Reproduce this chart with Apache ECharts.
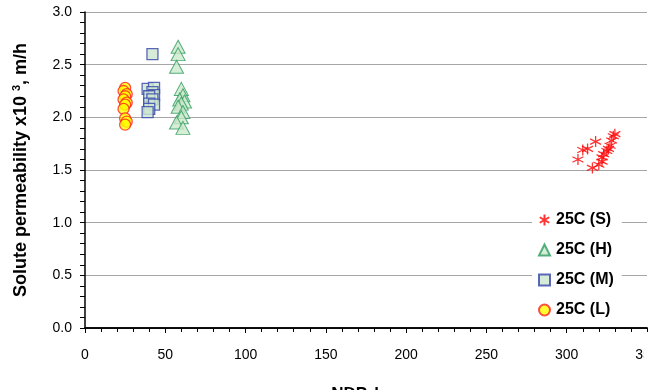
<!DOCTYPE html>
<html><head><meta charset="utf-8">
<script src="https://cdn.jsdelivr.net/npm/echarts@6/dist/echarts.min.js"></script>
<style>html,body{margin:0;padding:0;background:#fff}#c{width:662px;height:390px}</style>
</head><body><div id="c"></div>
<script>
var xTicks = [0, 50, 100, 150, 200, 250, 300, 350];
var yTicks = [0.0, 0.5, 1.0, 1.5, 2.0, 2.5, 3.0];
var seriesNames = ['25C (S)', '25C (H)', '25C (M)', '25C (L)'];
var dataS = [[307,1.60],[310,1.69],[313,1.70],[318,1.77],[316,1.52],[320,1.55],[322,1.58],[322,1.62],[323,1.65],[325,1.68],[326,1.70],[327,1.73],[328,1.78],[329,1.82],[330,1.84]];
var dataH = [[58,2.67],[58,2.60],[57,2.48],[60,2.27],[61,2.21],[59,2.17],[62,2.15],[60,2.13],[58,2.10],[61,2.05],[60,2.00],[57,1.95],[61,1.90]];
var dataM = [[42,2.60],[39,2.27],[43,2.28],[42,2.24],[43,2.21],[40,2.20],[42,2.17],[40,2.13],[43,2.12],[40,2.08],[39,2.05]];
var dataL = [[25,2.28],[24,2.25],[26,2.22],[25,2.20],[24,2.17],[26,2.14],[25,2.12],[24,2.08],[25,1.99],[26,1.96],[25,1.93]];

var asterisk = 'path://M5,0L5,10M0.7,2.5L9.3,7.5M0.7,7.5L9.3,2.5';
var chart = echarts.init(document.getElementById('c'), null, {renderer: 'canvas'});
var font = 'Liberation Sans, Arial, sans-serif';
chart.setOption({
  animation: false,
  grid: {left: 85, top: 12, right: 15, bottom: 62, containLabel: false, outerBoundsMode: 'none'},
  xAxis: [{
    type: 'value', min: 0, max: 350, interval: 50,
    name: 'NDP, bar', nameLocation: 'middle', nameGap: 58,
    nameTextStyle: {fontFamily: font, fontSize: 17, fontWeight: 'bold', color: '#000'},
    axisLine: {show: true, onZero: false, lineStyle: {color: '#000', width: 1.5}},
    axisTick: {show: true, length: 5, lineStyle: {color: '#000'}},
    minorTick: {show: true, splitNumber: 5, length: 4, lineStyle: {color: '#000'}},
    axisLabel: {margin: 20, fontFamily: font, fontSize: 14, color: '#000',
      formatter: function (v) { return xTicks.indexOf(v) >= 0 ? String(v) : ''; }},
    splitLine: {show: false}
  }, {
    type: 'value', position: 'top', min: 0, max: 350,
    axisLine: {show: true, lineStyle: {color: '#000', width: 1.5}},
    axisTick: {show: false}, axisLabel: {show: false}, splitLine: {show: false}
  }],
  yAxis: {
    type: 'value', min: 0, max: 3, interval: 0.5,
    name: '{a|Solute permeability x10 }{s|3}{a|, m/h}', nameLocation: 'middle', nameGap: 53, nameRotate: 90,
    nameTextStyle: {fontFamily: font, fontSize: 18, fontWeight: 'bold', color: '#000',
      rich: {a: {fontFamily: font, fontSize: 18, fontWeight: 'bold', color: '#000'},
             s: {fontFamily: font, fontSize: 11, fontWeight: 'bold', color: '#000', verticalAlign: 'top', padding: [0, 0, 10, 0]}}},
    axisLine: {show: true, onZero: false, lineStyle: {color: '#000', width: 1.5}},
    axisTick: {show: true, length: 5, lineStyle: {color: '#000'}},
    minorTick: {show: true, splitNumber: 5, length: 5, lineStyle: {color: '#000'}},
    axisLabel: {margin: 13, fontFamily: font, fontSize: 14, color: '#000',
      formatter: function (v) { return v.toFixed(1); }},
    splitLine: {show: true, lineStyle: {color: '#a6a6a6', width: 1}}
  },
  legend: {
    orient: 'vertical', left: 532, top: 206, padding: [6, 8, 6, 6],
    backgroundColor: '#fff', itemWidth: 11, itemHeight: 11, itemGap: 14,
    data: seriesNames,
    textStyle: {fontFamily: font, fontSize: 16, fontWeight: 'bold', color: '#000', padding: [0, 0, 0, 1]}
  },
  series: [
    {name: seriesNames[0], type: 'scatter', data: dataS, symbol: asterisk, symbolSize: 11,
     itemStyle: {color: 'rgba(0,0,0,0)', borderColor: '#ff0000', borderWidth: 1.3}, z: 5},
    {name: seriesNames[1], type: 'scatter', data: dataH, symbol: 'triangle', symbolSize: [14, 13],
     itemStyle: {color: '#cce8cc', borderColor: '#2e9b5e', borderWidth: 1}},
    {name: seriesNames[2], type: 'scatter', data: dataM, symbol: 'rect', symbolSize: 11,
     itemStyle: {color: '#cde6cf', borderColor: '#3344aa', borderWidth: 1.3}},
    {name: seriesNames[3], type: 'scatter', data: dataL, symbol: 'circle', symbolSize: 11,
     itemStyle: {color: '#ffff00', borderColor: '#ff2020', borderWidth: 1.3}}
  ],
  graphic: [{type: 'rect', shape: {x: 644, y: 332, width: 18, height: 40}, style: {fill: '#fff'}, z: 100}]
});
</script></body></html>
